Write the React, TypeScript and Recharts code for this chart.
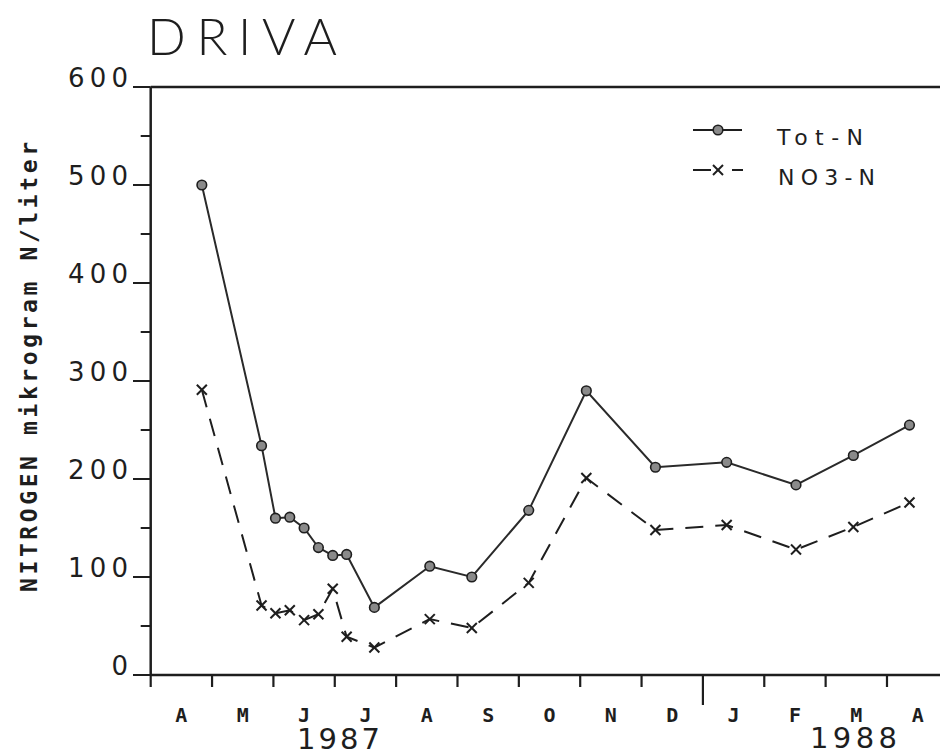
import React from 'react';
import { LineChart, Line, XAxis, YAxis, ReferenceLine } from 'recharts';

// Sampling dates (year, month 1-12, day)
const sampleDates: [number, number, number][] = [
  [1987, 4, 26], [1987, 5, 26], [1987, 6, 2], [1987, 6, 9], [1987, 6, 16],
  [1987, 6, 23], [1987, 6, 30], [1987, 7, 7], [1987, 7, 21], [1987, 8, 18],
  [1987, 9, 8], [1987, 10, 6], [1987, 11, 4], [1987, 12, 8], [1988, 1, 13],
  [1988, 2, 16], [1988, 3, 15], [1988, 4, 12],
];
const totN = [500, 234, 160, 161, 150, 130, 122, 123, 69, 111, 100, 168, 290, 212, 217, 194, 224, 255];
const no3N = [291, 71, 63, 66, 56, 62, 88, 39, 28, 57, 48, 94, 201, 148, 153, 128, 151, 176];

const monthLetters = ['A', 'M', 'J', 'J', 'A', 'S', 'O', 'N', 'D', 'J', 'F', 'M', 'A'];
const yTicks = [0, 50, 100, 150, 200, 250, 300, 350, 400, 450, 500, 550, 600];
const yearLabels = ['1987', '1988'];
const seriesNames = ['Tot-N', 'NO3-N'];

const daysIn = (y: number, m: number) => new Date(y, m, 0).getDate();
// position in months since 1 April 1987
const toPos = ([y, m, d]: [number, number, number]) =>
  (y - 1987) * 12 + (m - 4) + (d - 1) / daysIn(y, m);

const rows = sampleDates.map((dt, i) => ({ pos: toPos(dt), tot: totN[i], no3: no3N[i] }));

const monthTicks: number[] = [];
for (let i = 0; i <= 12; i++) monthTicks.push(i, i + 0.5);

const INK = '#1e1e1e';
const MONO = '"DejaVu Sans Mono", monospace';
const SANS = '"DejaVu Sans", sans-serif';

const Circle = ({ cx, cy }: { cx: number; cy: number }) => (
  <circle cx={cx} cy={cy} r={4.8} fill="#8a8a8a" stroke={INK} strokeWidth={1.6} />
);
const Cross = ({ cx, cy }: { cx: number; cy: number }) => (
  <g stroke={INK} strokeWidth={2}>
    <line x1={cx - 5} y1={cy - 5} x2={cx + 5} y2={cy + 5} />
    <line x1={cx - 5} y1={cy + 5} x2={cx + 5} y2={cy - 5} />
  </g>
);

const renderXTick = (props: any) => {
  const { x, y, payload } = props;
  const v = payload.value as number;
  if (Number.isInteger(v)) {
    const len = v === 9 ? 30 : 12;
    return (
      <line key={`xt-${v}`} x1={x} x2={x} y1={y} y2={y + len} stroke={INK} strokeWidth={2.2} />
    );
  }
  const idx = Math.floor(v);
  return (
    <text key={`xl-${v}`} x={x} y={y + 47} textAnchor="middle" fontFamily={MONO}
      fontWeight="bold" fontSize={20} fill={INK}>
      {monthLetters[idx]}
    </text>
  );
};

const renderYTick = (props: any) => {
  const { x, y, payload } = props;
  const v = payload.value as number;
  const major = v % 100 === 0;
  const s = String(v);
  return (
    <g key={`yt-${v}`}>
      <line x1={x - (major ? 17.7 : 10)} x2={x} y1={y} y2={y} stroke={INK} strokeWidth={2} />
      {major && (
        <text x={x - 22.7} y={y} textAnchor="end" fontFamily={SANS} fontSize={26} fill={INK}
          {...(s.length > 1 ? { textLength: 60, lengthAdjust: 'spacing' } : {})}>
          {s}
        </text>
      )}
    </g>
  );
};

export default function App() {
  return (
    <div style={{ width: 940, height: 755, background: '#fff', position: 'relative' }}>
      <style>{`body{margin:0;overflow:hidden;background:#fff}`}</style>
      <LineChart
        width={940}
        height={755}
        data={rows}
        margin={{ top: 87, right: 0, bottom: 79, left: 140.7 }}
      >
        <XAxis
          dataKey="pos"
          type="number"
          domain={[0, 12.864]}
          ticks={monthTicks}
          interval={0}
          tick={renderXTick}
          tickLine={false}
          tickSize={0}
          tickMargin={0}
          height={1}
          axisLine={{ stroke: INK, strokeWidth: 2.5 }}
          allowDataOverflow
        />
        <YAxis
          type="number"
          domain={[0, 600]}
          ticks={yTicks}
          interval={0}
          tick={renderYTick}
          tickLine={false}
          tickSize={0}
          tickMargin={0}
          width={10}
          axisLine={{ stroke: INK, strokeWidth: 2.5 }}
        />
        <ReferenceLine y={600} stroke={INK} strokeWidth={2.5} />
        <Line
          dataKey="no3"
          stroke={INK}
          strokeWidth={2}
          strokeDasharray="18 12"
          isAnimationActive={false}
          dot={(p: any) => <Cross key={`c-${p.index}`} cx={p.cx} cy={p.cy} />}
        />
        <Line
          dataKey="tot"
          stroke="#2a2a2a"
          strokeWidth={2}
          isAnimationActive={false}
          dot={(p: any) => <Circle key={`o-${p.index}`} cx={p.cx} cy={p.cy} />}
        />

        {/* Title */}
        <text x={147} y={55} fontFamily="Lato, 'Open Sans', sans-serif" fontWeight={300}
          fontSize={51} fill={INK} textLength={190} lengthAdjust="spacing">
          DRIVA
        </text>

        {/* Y axis label */}
        <text x={37} y={367} transform="rotate(-90, 37, 367)" textAnchor="middle"
          fontFamily={MONO} fontWeight="bold" fontSize={23} fill={INK}
          textLength={450} lengthAdjust="spacing">
          NITROGEN mikrogram N/liter
        </text>

        {/* Year labels */}
        <text x={297} y={749} fontFamily={SANS} fontSize={29} fill={INK}
          textLength={83} lengthAdjust="spacing">{yearLabels[0]}</text>
        <text x={810} y={748} fontFamily={SANS} fontSize={29} fill={INK}
          textLength={87} lengthAdjust="spacing">{yearLabels[1]}</text>

        {/* Legend */}
        <line x1={693} x2={742} y1={130} y2={130} stroke={INK} strokeWidth={2} />
        <Circle cx={718} cy={130} />
        <text x={777} y={145} fontFamily={SANS} fontSize={22} fill={INK}
          textLength={86} lengthAdjust="spacing">{seriesNames[0]}</text>
        <line x1={693} x2={711} y1={170} y2={170} stroke={INK} strokeWidth={2} />
        <Cross cx={718} cy={170} />
        <line x1={732} x2={743} y1={170} y2={170} stroke={INK} strokeWidth={2} />
        <text x={778} y={185} fontFamily={SANS} fontSize={22} fill={INK}
          textLength={97} lengthAdjust="spacing">{seriesNames[1]}</text>
      </LineChart>
    </div>
  );
}
